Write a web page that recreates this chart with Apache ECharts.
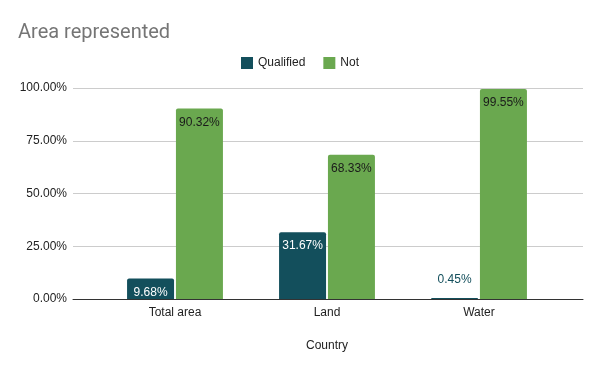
<!DOCTYPE html>
<html><head><meta charset="utf-8">
<script src="https://cdn.jsdelivr.net/npm/echarts@6/dist/echarts.min.js"></script>
<style>html,body{margin:0;padding:0;background:#fff}#c{width:600px;height:371px}</style>
</head><body><div id="c"></div>
<script>
var categories = ['Total area', 'Land', 'Water'];
var qualified = [9.68, 31.67, 0.45];
var notQualified = [90.32, 68.33, 99.55];
var yTicks = [0, 25, 50, 75, 100];

var chart = echarts.init(document.getElementById('c'));
var fontFam = 'Arial, "Liberation Sans", sans-serif';
function pct(v){ return v.toFixed(2) + '%'; }
var qData = qualified.map(function(v){
  var d = {value: v};
  if (v < 3) d.label = {position: 'top', color: '#134f5c', distance: 12};
  return d;
});
chart.setOption({
  animation: false,
  title: {text: 'Area represented', left: 13, top: 18, textStyle: {fontFamily: 'Roboto, Arial, sans-serif', fontSize: 20, fontWeight: 'normal', color: '#757575'}},
  legend: {top: 52, left: 'center', itemWidth: 12, itemHeight: 12, itemGap: 18, icon: 'rect',
    textStyle: {fontFamily: fontFam, fontSize: 12, color: '#222'}},
  grid: [
    {left: 73, right: 17, top: 88, bottom: 72},
    {left: 99, right: 45, top: 88, bottom: 72}
  ],
  xAxis: [
    {type: 'category', gridIndex: 0, data: categories, axisLine: {lineStyle: {color: '#333', width: 1}}, axisTick: {show: false}, axisLabel: {show: false}, z: 10},
    {type: 'category', gridIndex: 1, data: categories, axisLine: {show: false}, axisTick: {show: false},
      axisLabel: {margin: 8, fontFamily: fontFam, fontSize: 12, color: '#222'},
      name: 'Country', nameLocation: 'middle', nameGap: 41, nameTextStyle: {fontFamily: fontFam, fontSize: 12, color: '#222'}}
  ],
  yAxis: [
    {type: 'value', gridIndex: 0, min: 0, max: 100, interval: 25,
      axisLabel: {formatter: function(v){return pct(v);}, fontFamily: fontFam, fontSize: 12, color: '#222', margin: 6},
      splitLine: {lineStyle: {color: '#cccccc'}}, axisLine: {show: false}, axisTick: {show: false}},
    {type: 'value', gridIndex: 1, min: 0, max: 100, interval: 25, show: false, splitLine: {show: false}}
  ],
  series: [
    {name: 'Qualified', type: 'bar', xAxisIndex: 1, yAxisIndex: 1, data: qData, barWidth: 47, barGap: '4%',
      itemStyle: {color: '#134f5c', borderRadius: [2, 2, 0, 0]},
      label: {show: true, position: 'insideTop', distance: 8, color: '#ffffff', fontFamily: fontFam, fontSize: 12, formatter: function(p){return pct(p.value);}}},
    {name: 'Not', type: 'bar', xAxisIndex: 1, yAxisIndex: 1, data: notQualified, barWidth: 47,
      itemStyle: {color: '#6aa84f', borderRadius: [2, 2, 0, 0]},
      label: {show: true, position: 'insideTop', distance: 8, color: '#1a1a1a', fontFamily: fontFam, fontSize: 12, formatter: function(p){return pct(p.value);}}}
  ]
});
</script></body></html>
